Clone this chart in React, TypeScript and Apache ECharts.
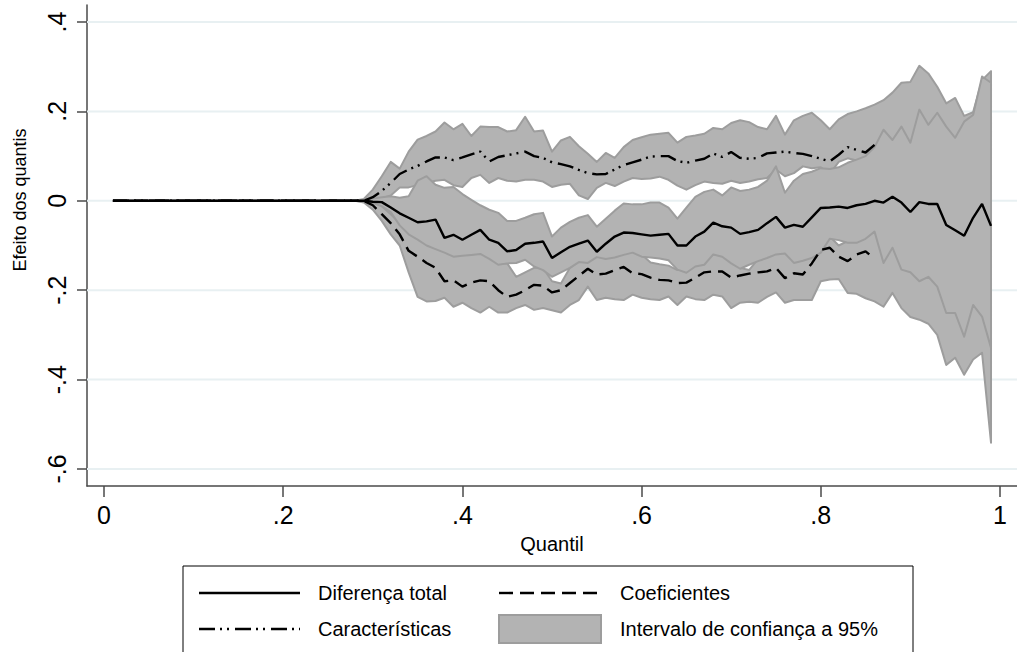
import React, { useEffect, useRef } from "react";
import * as echarts from "echarts";

// Quantiles 0.01 .. 0.99
const QUANTIS = [
  0.01, 0.02, 0.03, 0.04, 0.05, 0.06, 0.07, 0.08, 0.09, 0.1,
  0.11, 0.12, 0.13, 0.14, 0.15, 0.16, 0.17, 0.18, 0.19, 0.2,
  0.21, 0.22, 0.23, 0.24, 0.25, 0.26, 0.27, 0.28, 0.29, 0.3,
  0.31, 0.32, 0.33, 0.34, 0.35, 0.36, 0.37, 0.38, 0.39, 0.4,
  0.41, 0.42, 0.43, 0.44, 0.45, 0.46, 0.47, 0.48, 0.49, 0.5,
  0.51, 0.52, 0.53, 0.54, 0.55, 0.56, 0.57, 0.58, 0.59, 0.6,
  0.61, 0.62, 0.63, 0.64, 0.65, 0.66, 0.67, 0.68, 0.69, 0.7,
  0.71, 0.72, 0.73, 0.74, 0.75, 0.76, 0.77, 0.78, 0.79, 0.8,
  0.81, 0.82, 0.83, 0.84, 0.85, 0.86, 0.87, 0.88, 0.89, 0.9,
  0.91, 0.92, 0.93, 0.94, 0.95, 0.96, 0.97, 0.98, 0.99,
];

// quantiles 0.01 .. 0.28: every estimate is zero
const ZERO_PART = [
  0, 0, 0, 0, 0, 0, 0, 0, 0, 0,
  0, 0, 0, 0, 0, 0, 0, 0, 0, 0,
  0, 0, 0, 0, 0, 0, 0, 0,
];

// values for quantiles 0.29 .. 0.99
const DIFERENCA_TOTAL = [
  ...ZERO_PART,
  0,
  -0.002, -0.003, -0.015, -0.028, -0.038, -0.048, -0.046, -0.042, -0.083, -0.076,
  -0.087, -0.076, -0.065, -0.087, -0.094, -0.113, -0.11, -0.096, -0.094, -0.091,
  -0.128, -0.115, -0.103, -0.096, -0.089, -0.114, -0.096, -0.08, -0.071, -0.072,
  -0.075, -0.078, -0.076, -0.074, -0.1, -0.1, -0.08, -0.069, -0.049, -0.057,
  -0.06, -0.074, -0.07, -0.065, -0.05, -0.036, -0.06, -0.054, -0.058, -0.037,
  -0.016, -0.015, -0.013, -0.016, -0.01, -0.007, 0, -0.004, 0.009, -0.004,
  -0.025, -0.003, -0.007, -0.007, -0.054, -0.066, -0.078, -0.038, -0.007, -0.056,
];

const COEFICIENTES = [
  ...ZERO_PART,
  0,
  -0.01, -0.03, -0.05, -0.075, -0.112, -0.125, -0.139, -0.15, -0.18, -0.178,
  -0.192, -0.183, -0.178, -0.18, -0.2, -0.215, -0.21, -0.2, -0.188, -0.19,
  -0.205, -0.2, -0.184, -0.168, -0.152, -0.165, -0.163, -0.155, -0.148, -0.162,
  -0.164, -0.172, -0.177, -0.178, -0.184, -0.183, -0.172, -0.16, -0.158, -0.158,
  -0.172, -0.167, -0.163, -0.16, -0.158, -0.15, -0.173, -0.162, -0.165, -0.14,
  -0.11, -0.105, -0.125, -0.135, -0.12, -0.113, -0.13, null, null, null,
  null, null, null, null, null, null, null, null, null, null,
];

const CARACTERISTICAS = [
  ...ZERO_PART,
  0,
  0.008, 0.022, 0.04, 0.06, 0.07, 0.078, 0.088, 0.097, 0.097, 0.091,
  0.097, 0.104, 0.11, 0.088, 0.098, 0.102, 0.106, 0.11, 0.1, 0.096,
  0.086, 0.082, 0.077, 0.069, 0.062, 0.059, 0.06, 0.07, 0.08, 0.086,
  0.092, 0.099, 0.1, 0.1, 0.089, 0.085, 0.09, 0.094, 0.106, 0.098,
  0.109, 0.096, 0.094, 0.096, 0.106, 0.108, 0.11, 0.107, 0.105, 0.1,
  0.094, 0.088, 0.103, 0.12, 0.114, 0.108, 0.125, null, null, null,
  null, null, null, null, null, null, null, null, null, null,
];

// 95% confidence intervals
const CARACT_SUP = [
  ...ZERO_PART,
  0.004,
  0.025, 0.055, 0.087, 0.072, 0.11, 0.137, 0.145, 0.155, 0.175, 0.16,
  0.172, 0.145, 0.166, 0.165, 0.165, 0.155, 0.158, 0.188, 0.155, 0.157,
  0.11, 0.135, 0.143, 0.122, 0.105, 0.087, 0.107, 0.096, 0.12, 0.136,
  0.142, 0.148, 0.15, 0.152, 0.13, 0.143, 0.146, 0.15, 0.163, 0.16,
  0.174, 0.18, 0.176, 0.165, 0.16, 0.19, 0.148, 0.18, 0.19, 0.197,
  0.18, 0.16, 0.182, 0.194, 0.2, 0.207, 0.215, 0.225, 0.242, 0.264,
  0.266, 0.302, 0.285, 0.255, 0.218, 0.23, 0.19, 0.198, 0.27, 0.29,
];
const CARACT_INF = [
  ...ZERO_PART,
  0,
  0, 0.006, 0.012, 0.03, 0.03, 0.035, 0.04, 0.045, 0.047, 0.035,
  0.031, 0.051, 0.058, 0.04, 0.051, 0.045, 0.043, 0.047, 0.047, 0.043,
  0.031, 0.036, 0.038, 0.012, 0.004, 0.029, 0.04, 0.033, 0.043, 0.051,
  0.049, 0.05, 0.054, 0.047, 0.034, 0.025, 0.035, 0.043, 0.04, 0.038,
  0.045, 0.04, 0.043, 0.048, 0.051, 0.07, 0.055, 0.062, 0.077, 0.073,
  0.075, 0.06, 0.087, 0.095, 0.09, 0.09, 0.1, 0.1, 0.1, 0.1,
  0.1, 0.12, 0.12, 0.12, 0.1, 0.1, 0.1, 0.12, 0.15, 0.15,
];
const COEF_SUP = [
  ...ZERO_PART,
  0,
  0, -0.012, -0.03, -0.05, -0.07, -0.08, -0.09, -0.1, -0.11, -0.12,
  -0.12, -0.115, -0.115, -0.125, -0.14, -0.14, -0.17, -0.16, -0.15, -0.15,
  -0.18, -0.185, -0.15, -0.135, -0.135, -0.12, -0.125, -0.12, -0.115, -0.11,
  -0.12, -0.138, -0.142, -0.145, -0.155, -0.155, -0.14, -0.135, -0.12, -0.12,
  -0.135, -0.15, -0.155, -0.13, -0.125, -0.115, -0.115, -0.135, -0.13, -0.12,
  -0.08, -0.08, -0.1, -0.09, -0.09, -0.08, -0.065, -0.1, -0.09, -0.12,
  -0.13, -0.14, -0.14, -0.16, -0.2, -0.2, -0.24, -0.2, -0.22, -0.28,
];
const COEF_INF = [
  ...ZERO_PART,
  -0.004,
  -0.02, -0.045, -0.075, -0.1, -0.16, -0.215, -0.225, -0.224, -0.217, -0.237,
  -0.228, -0.24, -0.25, -0.237, -0.25, -0.25, -0.24, -0.233, -0.244, -0.24,
  -0.245, -0.25, -0.233, -0.222, -0.192, -0.222, -0.217, -0.22, -0.222, -0.21,
  -0.217, -0.22, -0.222, -0.214, -0.233, -0.214, -0.22, -0.222, -0.21, -0.214,
  -0.24, -0.228, -0.226, -0.228, -0.215, -0.205, -0.228, -0.222, -0.222, -0.222,
  -0.18, -0.176, -0.175, -0.206, -0.208, -0.218, -0.225, -0.237, -0.206, -0.24,
  -0.26, -0.266, -0.275, -0.3, -0.367, -0.351, -0.389, -0.355, -0.34, -0.541,
];
const TOTAL_SUP = [
  ...ZERO_PART,
  0.002,
  0.005, 0.008, 0.01, 0.007, 0.01, 0.045, 0.055, 0.036, 0.029, 0.031,
  0.015, 0.002, -0.01, -0.02, -0.027, -0.045, -0.045, -0.038, -0.03, -0.027,
  -0.08, -0.06, -0.047, -0.038, -0.032, -0.058, -0.04, -0.022, -0.006, -0.008,
  -0.008, -0.004, -0.004, -0.015, -0.04, -0.015, 0.009, 0.02, 0.025, 0.012,
  0.03, 0.022, 0.025, 0.031, 0.045, 0.077, 0.018, 0.045, 0.06, 0.065,
  0.073, 0.071, 0.075, 0.085, 0.092, 0.1, 0.12, 0.159, 0.136, 0.166,
  0.13, 0.204, 0.17, 0.197, 0.166, 0.141, 0.177, 0.192, 0.278, 0.264,
];
const TOTAL_INF = [
  ...ZERO_PART,
  -0.002,
  -0.005, -0.012, -0.025, -0.055, -0.075, -0.087, -0.1, -0.108, -0.116, -0.125,
  -0.123, -0.121, -0.119, -0.13, -0.143, -0.14, -0.139, -0.132, -0.147, -0.155,
  -0.17, -0.16, -0.15, -0.137, -0.139, -0.126, -0.13, -0.127, -0.121, -0.116,
  -0.125, -0.127, -0.129, -0.133, -0.154, -0.161, -0.147, -0.143, -0.12, -0.125,
  -0.14, -0.152, -0.143, -0.135, -0.128, -0.12, -0.118, -0.139, -0.134, -0.128,
  -0.116, -0.085, -0.088, -0.094, -0.094, -0.085, -0.069, -0.139, -0.105, -0.154,
  -0.16, -0.18, -0.17, -0.192, -0.251, -0.251, -0.304, -0.233, -0.259, -0.329,
];

const X_TICKS = [0, 0.2, 0.4, 0.6, 0.8, 1];
const Y_TICKS = [-0.6, -0.4, -0.2, 0, 0.2, 0.4];

const X_TITLE = "Quantil";
const Y_TITLE = "Efeito dos quantis";
const LEGEND_LABELS = [
  "Diferença total",
  "Coeficientes",
  "Características",
  "Intervalo de confiança a 95%",
];

const FONT = '"Liberation Sans", Arial, Helvetica, sans-serif';
const BAND_FILL = "#b3b3b3";
const BAND_EDGE = "#9d9d9d";
const GRID_COLOR = "#e8f0f2";
const AXIS_COLOR = "#4a4a4a";
const DASH = [14, 7];
const DASH_DOT = [16, 5, 2, 5, 2, 6];
const X_MIN = -0.019;
const X_MAX = 1.019;

const stataLabel = (v: number) => {
  if (v === 0) return "0";
  if (v === 1) return "1";
  return String(v).replace("0.", ".");
};

const pairs = (vals: (number | null)[]) =>
  QUANTIS.map((q, i) => [q, vals[i]]).filter((p) => p[1] !== null);

const bandSeries = (name: string, upper: number[], lower: number[]) => ({
  type: "custom",
  name,
  coordinateSystem: "cartesian2d",
  silent: true,
  z: 2,
  data: [[0.5, 0]],
  encode: { x: 0, y: 1 },
  renderItem: (_params: any, api: any) => {
    const pts: number[][] = [];
    for (let i = 0; i < QUANTIS.length; i++) pts.push(api.coord([QUANTIS[i], upper[i]]));
    for (let i = QUANTIS.length - 1; i >= 0; i--) pts.push(api.coord([QUANTIS[i], lower[i]]));
    return {
      type: "polygon",
      shape: { points: pts },
      style: { fill: BAND_FILL, stroke: BAND_EDGE, lineWidth: 2, lineJoin: "round" },
    };
  },
});

const gridSeries = {
  type: "custom",
  name: "grade",
  coordinateSystem: "cartesian2d",
  silent: true,
  z: 1,
  data: Y_TICKS.map((v) => [0, v]),
  encode: { x: 0, y: 1 },
  renderItem: (_params: any, api: any) => {
    const v = api.value(1);
    const a = api.coord([X_MIN, v]);
    const b = api.coord([X_MAX, v]);
    return {
      type: "line",
      shape: { x1: a[0], y1: a[1], x2: b[0], y2: b[1] },
      style: { stroke: GRID_COLOR, lineWidth: 2 },
    };
  },
};

const lineSeries = (name: string, vals: (number | null)[], type: any) => ({
  type: "line",
  name,
  z: 4,
  data: pairs(vals),
  showSymbol: false,
  symbol: "none",
  silent: true,
  lineStyle: { color: "#000", width: 2.4, type },
});

export default function App() {
  const ref = useRef<HTMLDivElement>(null);

  useEffect(() => {
    if (!ref.current) return;
    const chart = echarts.init(ref.current, undefined, { renderer: "svg" });

    const lx1 = 199, lx2 = 300, rx1 = 499, rx2 = 601;
    const row1 = 593, row2 = 629;
    const txt = (text: string, x: number, y: number) => ({
      type: "text",
      x,
      y,
      style: { text, fill: "#000", font: `20px ${FONT}`, verticalAlign: "middle", align: "left" },
      silent: true,
    });

    chart.setOption({
      animation: false,
      backgroundColor: "#ffffff",
      textStyle: { fontFamily: FONT },
      grid: { left: 87, top: 5, width: 930, height: 481, outerBoundsMode: "none", containLabel: false },
      xAxis: {
        type: "value",
        min: X_MIN,
        max: X_MAX,
        axisLine: { show: true, onZero: false, lineStyle: { color: AXIS_COLOR, width: 1.5 } },
        axisTick: { show: true, length: 11, lineStyle: { color: AXIS_COLOR, width: 1.5 }, customValues: X_TICKS },
        axisLabel: { color: "#000", fontSize: 25, fontFamily: FONT, margin: 16, customValues: X_TICKS, formatter: stataLabel },
        splitLine: { show: false },
      },
      yAxis: {
        type: "value",
        min: -0.638,
        max: 0.438,
        axisLine: { show: true, onZero: false, lineStyle: { color: AXIS_COLOR, width: 1.5 } },
        axisTick: { show: true, length: 10, lineStyle: { color: AXIS_COLOR, width: 1.5 }, customValues: Y_TICKS },
        axisLabel: { color: "#000", fontSize: 25, fontFamily: FONT, margin: 18, rotate: 90, customValues: Y_TICKS, formatter: stataLabel },
        splitLine: { show: false },
      },
      series: [
        gridSeries,
        bandSeries("IC Características", CARACT_SUP, CARACT_INF),
        bandSeries("IC Coeficientes", COEF_SUP, COEF_INF),
        bandSeries("IC Diferença total", TOTAL_SUP, TOTAL_INF),
        lineSeries(LEGEND_LABELS[2], CARACTERISTICAS, DASH_DOT),
        lineSeries(LEGEND_LABELS[1], COEFICIENTES, DASH),
        lineSeries(LEGEND_LABELS[0], DIFERENCA_TOTAL, "solid"),
      ],
      graphic: {
        elements: [
          {
            type: "text",
            x: 552,
            y: 544,
            style: { text: X_TITLE, fill: "#000", font: `20px ${FONT}`, align: "center", verticalAlign: "middle" },
            silent: true,
          },
          {
            type: "text",
            x: 20,
            y: 200,
            rotation: Math.PI / 2,
            style: { text: Y_TITLE, fill: "#000", font: `18px ${FONT}`, align: "center", verticalAlign: "middle" },
            silent: true,
          },
          { type: "rect", shape: { x: 183, y: 566, width: 730, height: 100 }, style: { fill: "#fff", stroke: "#000", lineWidth: 1 }, silent: true },
          { type: "line", shape: { x1: lx1, y1: row1, x2: lx2, y2: row1 }, style: { stroke: "#000", lineWidth: 2.4 }, silent: true },
          txt(LEGEND_LABELS[0], 318, row1),
          { type: "line", shape: { x1: rx1, y1: row1, x2: rx2, y2: row1 }, style: { stroke: "#000", lineWidth: 2.4, lineDash: DASH }, silent: true },
          txt(LEGEND_LABELS[1], 620, row1),
          { type: "line", shape: { x1: lx1, y1: row2, x2: lx2, y2: row2 }, style: { stroke: "#000", lineWidth: 2.4, lineDash: DASH_DOT }, silent: true },
          txt(LEGEND_LABELS[2], 318, row2),
          { type: "rect", shape: { x: rx1, y: row2 - 14, width: rx2 - rx1, height: 28 }, style: { fill: BAND_FILL, stroke: BAND_EDGE, lineWidth: 2 }, silent: true },
          txt(LEGEND_LABELS[3], 620, row2),
        ],
      },
    });

    return () => chart.dispose();
  }, []);

  return (
    <div
      ref={ref}
      style={{ position: "fixed", left: 0, top: 0, width: 1017, height: 652, background: "#fff" }}
    />
  );
}
